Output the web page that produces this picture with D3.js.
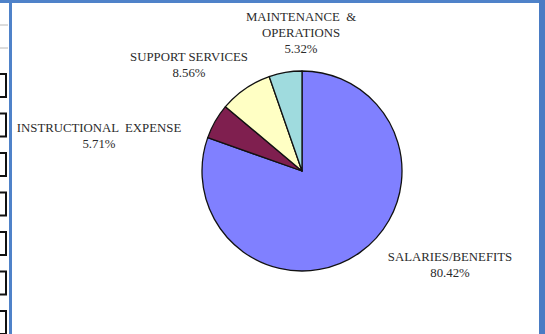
<!DOCTYPE html>
<html>
<head>
<meta charset="utf-8">
<script src="https://cdn.jsdelivr.net/npm/d3@7/dist/d3.min.js"></script>
<style>
  html, body { margin: 0; padding: 0; background: #fff; }
  svg { display: block; }
</style>
</head>
<body>
<svg id="chart" width="545" height="334"></svg>
<script>
// Budget breakdown by category (percent of total)
const categories = ["SALARIES/BENEFITS", "INSTRUCTIONAL  EXPENSE", "SUPPORT SERVICES", "MAINTENANCE  &\nOPERATIONS"];
const shares = [80.42, 5.71, 8.56, 5.32];
const sliceColors = ["#8080ff", "#7f1f4f", "#ffffc4", "#9fdbde"];

const W = 545, H = 334;
const svg = d3.select("#chart");

// Window chrome: side strip with table cells and blue frame
const strip = svg.append("g");
strip.append("rect").attr("x", 0).attr("y", 0).attr("width", 9).attr("height", H).attr("fill", "#fff");
[25, 48].forEach(y => strip.append("line").attr("x1", 0).attr("x2", 8).attr("y1", y).attr("y2", y)
  .attr("stroke", "#b8b8b8").attr("stroke-width", 1));
d3.range(7).forEach(i => {
  strip.append("rect")
    .attr("x", -3).attr("y", 74 + i * 39.5).attr("width", 9).attr("height", 23)
    .attr("fill", "#fff").attr("stroke", "#111").attr("stroke-width", 2);
});
svg.append("rect").attr("x", 0).attr("y", 0).attr("width", W).attr("height", 3).attr("fill", "#4f82c9");
svg.append("rect").attr("x", 9).attr("y", 0).attr("width", 3).attr("height", H).attr("fill", "#4f82c9");
svg.append("rect").attr("x", 539).attr("y", 0).attr("width", 6).attr("height", H).attr("fill", "#4a7cc4");

// Pie
const cx = 302, cy = 171, r = 100;
const pie = d3.pie().sort(null).value(d => d);
const arc = d3.arc().innerRadius(0).outerRadius(r);
const color = d3.scaleOrdinal().domain(categories).range(sliceColors);

svg.append("g")
  .attr("transform", `translate(${cx},${cy})`)
  .selectAll("path")
  .data(pie(shares))
  .join("path")
  .attr("d", arc)
  .attr("fill", (d, i) => color(categories[i]))
  .attr("stroke", "#111")
  .attr("stroke-width", 1.3)
  .attr("stroke-linejoin", "round");

// Data labels: name lines plus percentage
const labelAnchors = [[450, 261], [99, 132], [189, 61], [301, 21]];
const labels = svg.append("g")
  .attr("font-family", "'Liberation Serif', 'Times New Roman', serif")
  .attr("font-size", 12.8)
  .attr("fill", "#2b2b2b")
  .attr("text-anchor", "middle");

categories.forEach((name, i) => {
  const lines = name.split("\n").concat([d3.format(".2f")(shares[i]) + "%"]);
  const t = labels.append("text")
    .attr("x", labelAnchors[i][0]).attr("y", labelAnchors[i][1])
    .style("white-space", "pre");
  lines.forEach((ln, j) => {
    t.append("tspan").attr("x", labelAnchors[i][0]).attr("dy", j === 0 ? 0 : 16).text(ln);
  });
});
</script>
</body>
</html>
